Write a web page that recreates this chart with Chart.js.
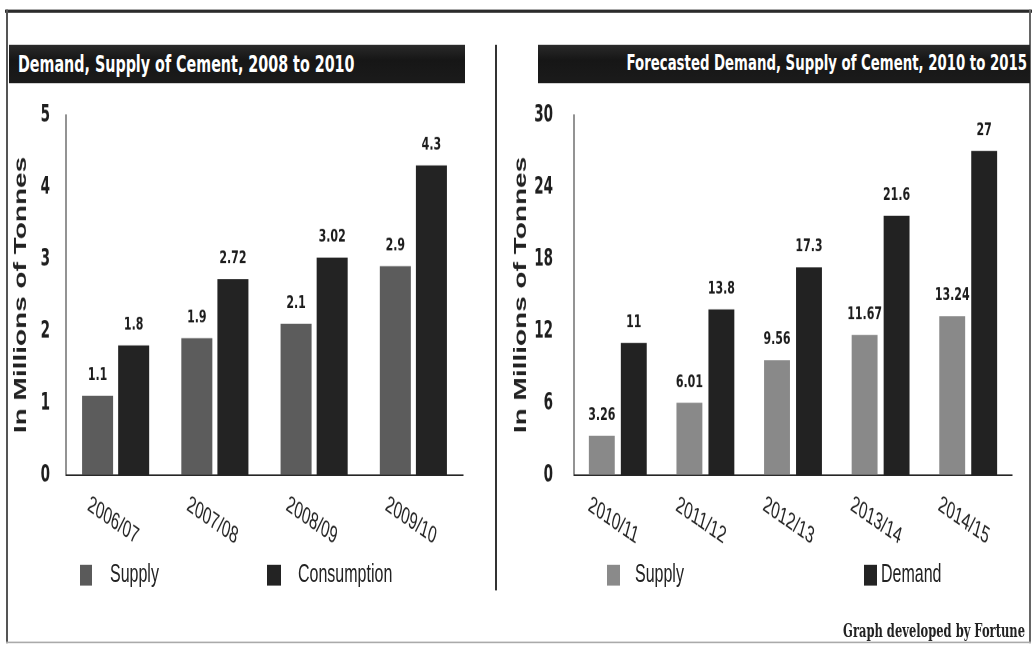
<!DOCTYPE html>
<html>
<head>
<meta charset="utf-8">
<title>Demand and Supply of Cement</title>
<script src="https://cdn.jsdelivr.net/npm/chart.js@4.4.1/dist/chart.umd.min.js"></script>
<style>
  html, body { margin: 0; padding: 0; background: #fff; }
  body { width: 1033px; height: 645px; overflow: hidden; position: relative; }
  /* The whole sheet is laid out on a short page and stretched vertically,
     which gives every glyph its tall, narrow look. */
  #page {
    --k: 1.6;
    position: absolute; left: 0; top: 0;
    width: 1033px; height: calc(645px / var(--k));
    transform: scaleY(1.6); transform-origin: 0 0;
  }
  .abs { position: absolute; }
  .rule { position: absolute; }
  .title-bar {
    position: absolute; box-sizing: border-box;
    background: linear-gradient(#2a2a2a, #161616 40%, #1b1b1b);
    color: #fff; white-space: nowrap;
    font-family: "DejaVu Sans", "Liberation Sans", sans-serif; font-weight: bold;
  }
  .swatch { position: absolute; }
  .legend-text {
    position: absolute; white-space: nowrap;
    font-family: "Liberation Sans", Arial, sans-serif; font-size: 16px;
    line-height: 16px; height: 16px; color: #222;
  }
  .credit {
    position: absolute; white-space: nowrap;
    font-family: "DejaVu Serif", "Liberation Serif", serif; font-weight: bold;
    font-size: 11.5px; line-height: 16px; height: 16px; color: #222;
  }
</style>
</head>
<body>
<div id="page">
  <!-- outer frame -->
  <div class="rule" style="left:5px;top:calc(10px/var(--k));width:1027px;height:calc(2px/var(--k));background:#2b2b2b"></div>
  <div class="rule" style="left:6px;top:calc(10px/var(--k));width:2px;height:calc(633px/var(--k));background:#555"></div>
  <div class="rule" style="left:1029px;top:calc(10px/var(--k));width:2px;height:calc(633px/var(--k));background:#666"></div>
  <div class="rule" style="left:6px;top:calc(642px/var(--k));width:1025px;height:calc(1.5px/var(--k));background:#aaa"></div>

  <!-- panel headings -->
  <div class="title-bar" style="left:9px;top:calc(44px/var(--k));width:456px;height:calc(39px/var(--k));line-height:calc(39px/var(--k));font-size:14.3px;padding-left:9px;">Demand, Supply of Cement, 2008 to 2010</div>
  <div class="title-bar" style="left:538px;top:calc(44px/var(--k));width:492px;height:calc(39px/var(--k));line-height:calc(39px/var(--k));font-size:13.3px;padding-right:3px;text-align:right;">Forecasted Demand, Supply of Cement, 2010 to 2015</div>

  <!-- divider between the two panels -->
  <div class="rule" style="left:495px;top:calc(45px/var(--k));width:2px;height:calc(545px/var(--k));background:#333"></div>

  <!-- chart canvases -->
  <div class="abs" style="left:8px;top:56px;width:488px;height:294px"><canvas id="pastChart" width="488" height="294"></canvas></div>
  <div class="abs" style="left:500px;top:56px;width:533px;height:294px"><canvas id="forecastChart" width="533" height="294"></canvas></div>

  <!-- legends -->
  <div class="swatch" style="left:80px;top:calc(564px/var(--k));width:12px;height:calc(21px/var(--k));background:#5a5a5a"></div>
  <div class="legend-text" style="left:110px;top:calc(575px/var(--k) - 8px)">Supply</div>
  <div class="swatch" style="left:267px;top:calc(564px/var(--k));width:14px;height:calc(21px/var(--k));background:#232323"></div>
  <div class="legend-text" style="left:298px;top:calc(575px/var(--k) - 8px)">Consumption</div>

  <div class="swatch" style="left:607px;top:calc(564px/var(--k));width:13px;height:calc(21px/var(--k));background:#8a8a8a"></div>
  <div class="legend-text" style="left:635px;top:calc(575px/var(--k) - 8px)">Supply</div>
  <div class="swatch" style="left:864px;top:calc(564px/var(--k));width:13px;height:calc(21px/var(--k));background:#232323"></div>
  <div class="legend-text" style="left:881px;top:calc(575px/var(--k) - 8px)">Demand</div>

  <div class="credit" style="right:8px;top:calc(630px/var(--k) - 8px)">Graph developed by Fortune</div>
</div>

<script>
// Cement supply vs consumption, 2006/07 - 2009/10 (million tonnes)
const pastPeriods = ['2006/07', '2007/08', '2008/09', '2009/10'];
const pastSupply = [1.1, 1.9, 2.1, 2.9];
const pastConsumption = [1.8, 2.72, 3.02, 4.3];
const pastTickValues = [0, 1, 2, 3, 4, 5];

// Forecast supply vs demand, 2010/11 - 2014/15 (million tonnes)
const forecastPeriods = ['2010/11', '2011/12', '2012/13', '2013/14', '2014/15'];
const forecastSupply = [3.26, 6.01, 9.56, 11.67, 13.24];
const forecastDemand = [11, 13.8, 17.3, 21.6, 27];
const forecastTickValues = [0, 6, 12, 18, 24, 30];

const AXIS_TITLE = 'In Millions of Tonnes';
const NARROW_BOLD = '"Liberation Sans Narrow", "Arial Narrow", "DejaVu Sans Condensed", sans-serif';

// Value printed above each bar, taken from the bar element itself.
const valueLabels = {
  id: 'valueLabels',
  afterDatasetsDraw(chart, args, opts) {
    const ctx = chart.ctx;
    ctx.save();
    ctx.font = 'bold 11px "DejaVu Sans", "Liberation Sans", sans-serif';
    ctx.fillStyle = '#1c1c1c';
    ctx.textAlign = 'center';
    ctx.textBaseline = 'middle';
    chart.data.datasets.forEach((ds, di) => {
      chart.getDatasetMeta(di).data.forEach((bar, i) => {
        ctx.fillText(String(ds.data[i]), bar.x, bar.y - opts.gap);
      });
    });
    ctx.restore();
  }
};

// Category names slanting down to the right under each group.
const slantedCategoryLabels = {
  id: 'slantedCategoryLabels',
  afterDraw(chart, args, opts) {
    const ctx = chart.ctx;
    const xs = chart.scales.x;
    ctx.save();
    ctx.font = '15px "Liberation Sans", Arial, sans-serif';
    ctx.fillStyle = '#222';
    ctx.textAlign = 'center';
    ctx.textBaseline = 'middle';
    chart.data.labels.forEach((label, i) => {
      ctx.save();
      ctx.translate(xs.getPixelForTick(i) + opts.dx, chart.chartArea.bottom + opts.drop);
      ctx.rotate(opts.angle * Math.PI / 180);
      ctx.fillText(label, 0, 0);
      ctx.restore();
    });
    ctx.restore();
  }
};

function buildChart(canvasId, cfg) {
  const ticks = cfg.tickValues;
  return new Chart(document.getElementById(canvasId), {
    type: 'bar',
    data: {
      labels: cfg.labels,
      datasets: [
        { label: cfg.names[0], data: cfg.first, backgroundColor: cfg.colors[0],
          categoryPercentage: cfg.categoryPercentage, barPercentage: cfg.barPercentage },
        { label: cfg.names[1], data: cfg.second, backgroundColor: cfg.colors[1],
          categoryPercentage: cfg.categoryPercentage, barPercentage: cfg.barPercentage }
      ]
    },
    options: {
      responsive: false,
      animation: false,
      devicePixelRatio: 2,
      layout: { padding: { left: 0, top: 15.875, right: cfg.padRight, bottom: 53.125 } },
      plugins: {
        legend: { display: false },
        tooltip: { enabled: false },
        valueLabels: { gap: 12.8 },
        slantedCategoryLabels: { dx: cfg.labelShift, drop: 28.7, angle: 23.6 }
      },
      scales: {
        x: {
          grid: { display: false, drawTicks: false },
          ticks: { display: false },
          border: { display: true, color: '#262626', width: 1 },
          afterFit(scale) { scale.height = 0; }
        },
        y: {
          min: ticks[0],
          max: ticks[ticks.length - 1],
          ticks: {
            stepSize: ticks[1] - ticks[0],
            padding: 0,
            color: '#1e1e1e',
            font: { family: NARROW_BOLD, size: 15, weight: 'bold' }
          },
          // gap between the numbers and the axis line comes from the (hidden) tick length
          grid: { display: false, drawTicks: true, tickLength: cfg.tickGap },
          border: { display: true, color: '#262626', width: 1 },
          title: {
            display: true,
            text: AXIS_TITLE,
            color: '#222',
            font: { family: '"Liberation Sans", Arial, sans-serif', size: 17.5, weight: 'bold' },
            padding: { top: cfg.titlePad, bottom: 0 }
          },
          afterFit(scale) { scale.width = cfg.axisWidth; }
        }
      }
    },
    plugins: [valueLabels, slantedCategoryLabels]
  });
}

buildChart('pastChart', {
  labels: pastPeriods,
  names: ['Supply', 'Consumption'],
  first: pastSupply,
  second: pastConsumption,
  tickValues: pastTickValues,
  colors: ['#5c5c5c', '#232323'],
  categoryPercentage: 0.727,
  barPercentage: 0.86,
  axisWidth: 58,
  tickGap: 16,
  titlePad: 2.5,
  padRight: 33,
  labelShift: -2.5
});

buildChart('forecastChart', {
  labels: forecastPeriods,
  names: ['Supply', 'Demand'],
  first: forecastSupply,
  second: forecastDemand,
  tickValues: forecastTickValues,
  colors: ['#898989', '#222222'],
  categoryPercentage: 0.73,
  barPercentage: 0.81,
  axisWidth: 74,
  tickGap: 21,
  titlePad: 10.5,
  padRight: 21,
  labelShift: -4.5
});
</script>
</body>
</html>
